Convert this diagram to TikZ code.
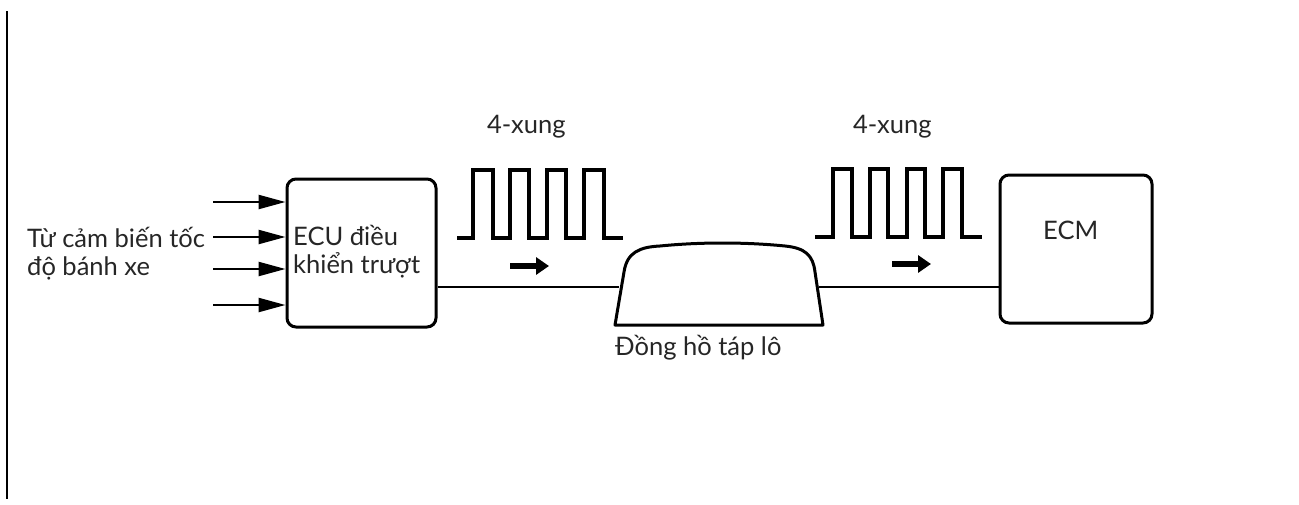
\documentclass[tikz,border=0pt]{standalone}
\usepackage{fontspec}
\setmainfont{Lato}
\usetikzlibrary{arrows.meta}
\begin{document}
\begin{tikzpicture}[x=1pt,y=-1pt,
  lbl/.style={inner sep=0pt,anchor=base west,font=\fontsize{25.5}{30}\selectfont,text=black!85},
  boxn/.style={draw,line width=3pt,rounded corners=9pt,inner sep=0pt},
  inarrow/.style={line width=2.4pt,-{Triangle[length=27pt,width=14pt]}},
  wire/.style={line width=1.6pt},
  pulse/.style={line width=4pt,line join=miter},
  flow/.style={line width=6pt,-{Triangle[length=13pt,width=17pt]}}]
\useasboundingbox (0,0) rectangle (1299,504);
% left border line
\coordinate (bt) at (7,11);
\coordinate (bb) at (7,499);
\draw[line width=2pt] (bt) -- (bb);
% ECU box
\node[boxn,minimum width=149pt,minimum height=148pt] (ecu) at (361.5,253) {};
\node[lbl] (ecut1) at (293,245) {ECU điều};
\node[lbl] (ecut2) at (293,273) {khiển trượt};
% input label
\node[lbl] (src1) at (27,247) {Từ cảm biến tốc};
\node[lbl] (src2) at (27,275) {độ bánh xe};
% input arrows
\foreach \i/\yy in {1/202,2/237,3/269,4/305}{
  \coordinate (in\i) at (213,\yy);
  \draw[inarrow] (in\i) -- (in\i -| ecu.west);
}
% dashboard
\coordinate (dl) at (619,287);
\coordinate (dr) at (819,287);
\draw[line width=3pt,line join=round] (615,325) -- (624,272)
  .. controls (627,252) and (640,247) .. (660,246)
  .. controls (700,242) and (745,242) .. (785,246)
  .. controls (805,248) and (813,255) .. (815,272)
  -- (823,325) -- cycle;
\node[lbl] (dash) at (615,355) {Đồng hồ táp lô};
% ECM
\node[boxn,minimum width=152pt,minimum height=148pt] (ecm) at (1076,249) {};
\node[lbl] (ecmt) at (1043,239) {ECM};
% wires
\coordinate (w1) at (ecu.east |- dl);
\draw[wire] (w1) -- (dl);
\coordinate (w2) at (ecm.west |- dr);
\draw[wire] (dr) -- (w2);
% pulse trains
\draw[pulse] (457,238) -- (473,238) -- (473,170) -- (493,170) -- (493,238)
  -- (510,238) -- (510,170) -- (529,170) -- (529,238)
  -- (547,238) -- (547,170) -- (566,170) -- (566,238)
  -- (584,238) -- (584,170) -- (604,170) -- (604,238) -- (623,238);
\draw[pulse] (815,237) -- (833,237) -- (833,169) -- (852,169) -- (852,237)
  -- (870,237) -- (870,169) -- (888,169) -- (888,237)
  -- (907,237) -- (907,169) -- (925,169) -- (925,237)
  -- (943,237) -- (943,169) -- (962,169) -- (962,237) -- (982,237);
\node[lbl] (p1) at (487,133) {4-xung};
\node[lbl] (p2) at (853,133) {4-xung};
% flow arrows
\coordinate (f1a) at (510,266);
\coordinate (f1b) at (549,266);
\draw[flow] (f1a) -- (f1b);
\coordinate (f2a) at (892,264);
\coordinate (f2b) at (931,264);
\draw[flow] (f2a) -- (f2b);
\end{tikzpicture}
\end{document}
